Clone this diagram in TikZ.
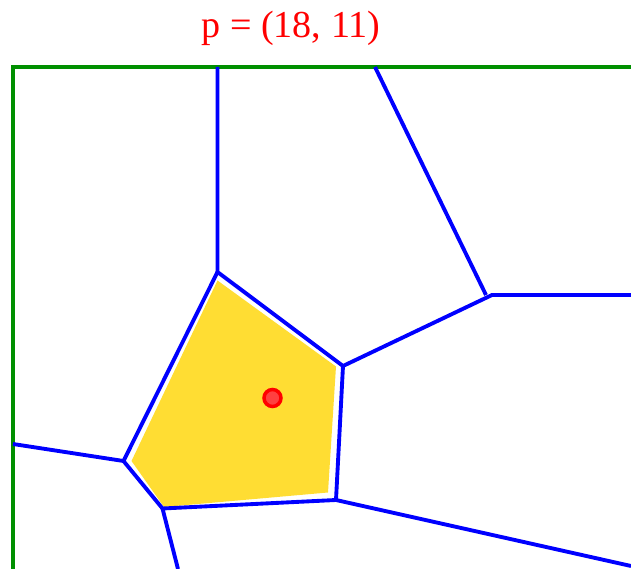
\documentclass[tikz,border=0pt]{standalone}
\usepackage{fontspec}
\setmainfont{Liberation Serif}
\definecolor{kuning}{RGB}{255,221,51}
\definecolor{hijau}{RGB}{0,144,0}
\begin{document}
\begin{tikzpicture}[x=0.03cm,y=-0.03cm,
  tepi/.style={blue,line width=3.3pt},
  bingkai/.style={hijau,line width=3.3pt}]
\useasboundingbox (0,0) rectangle (631,569);
% titik-titik sudut
\coordinate (A) at (217.5,272);
\coordinate (B) at (343,366);
\coordinate (C) at (336,500);
\coordinate (D) at (162.5,508.5);
\coordinate (E) at (123.5,461);
\coordinate (F) at (492,295);
\coordinate (Fa) at (486,295);
% ujung bebas
\coordinate (u1) at (217.5,67);
\coordinate (u2) at (375,67);
\coordinate (u3) at (631,295);
\coordinate (u4) at (631,566);
\coordinate (u5) at (178,569);
\coordinate (u6) at (13,444);
% sel berwarna
\fill[kuning] (217.5,280.5) -- (336,366.5) -- (328,492.5) -- (164,507) -- (131.5,461) -- cycle;
% bingkai
\draw[bingkai] (13,569) -- (13,67) -- (631,67);
% tepi diagram
\draw[tepi] (u1) -- (A) -- (B) -- (F) -- (u3);
\draw[tepi] (u2) -- (Fa);
\draw[tepi] (B) -- (C) -- (D) -- (E) -- (A);
\draw[tepi] (C) -- (u4);
\draw[tepi] (D) -- (u5);
\draw[tepi] (E) -- (u6);
% titik p
\fill[red!75!white,draw=red,line width=3pt] (272.5,398) circle (8.5);
\node[red,font=\fontsize{32.5}{36}\selectfont,anchor=base] (judul) at (291,38) {p = (18, 11)};
\end{tikzpicture}
\end{document}
